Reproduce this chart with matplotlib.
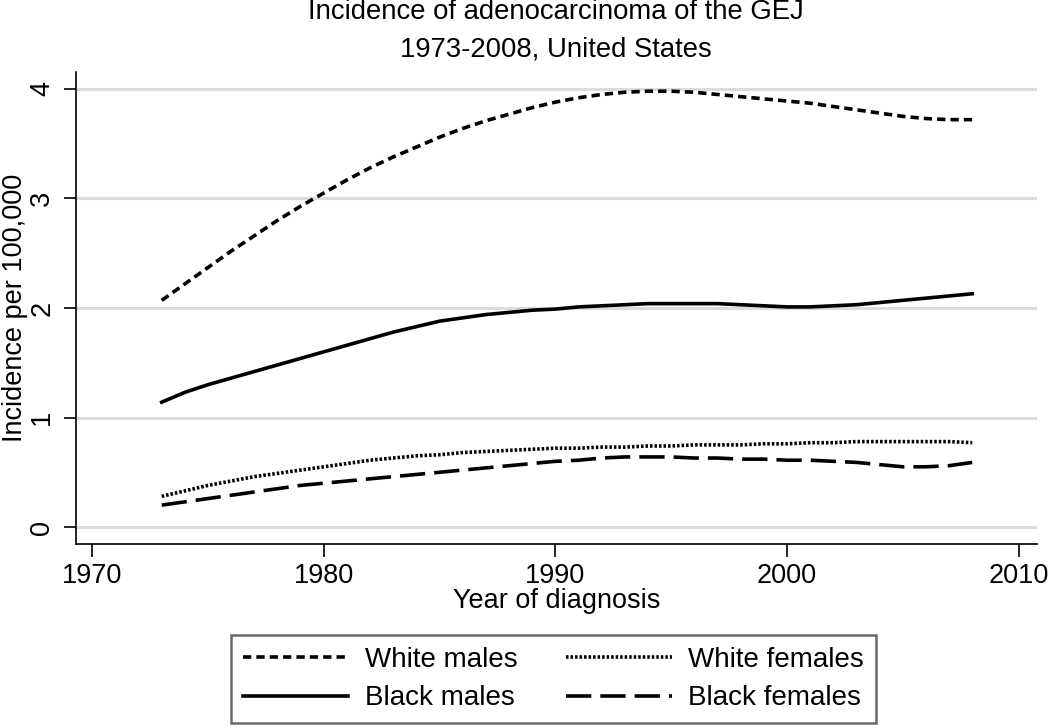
import matplotlib.pyplot as plt
from matplotlib.lines import Line2D

plt.rcParams['font.family'] = ['Liberation Sans', 'DejaVu Sans']

years = list(range(1973, 2009))

# incidence per 100,000
white_males = [2.07, 2.22, 2.37, 2.52, 2.66, 2.80, 2.93, 3.05, 3.17, 3.28,
               3.38, 3.47, 3.56, 3.64, 3.71, 3.77, 3.83, 3.88, 3.92, 3.95,
               3.97, 3.98, 3.98, 3.97, 3.95, 3.93, 3.91, 3.89, 3.87, 3.84,
               3.81, 3.78, 3.75, 3.73, 3.72, 3.72]
black_males = [1.14, 1.23, 1.30, 1.36, 1.42, 1.48, 1.54, 1.60, 1.66, 1.72,
               1.78, 1.83, 1.88, 1.91, 1.94, 1.96, 1.98, 1.99, 2.01, 2.02,
               2.03, 2.04, 2.04, 2.04, 2.04, 2.03, 2.02, 2.01, 2.01, 2.02,
               2.03, 2.05, 2.07, 2.09, 2.11, 2.13]
white_females = [0.28, 0.33, 0.38, 0.42, 0.46, 0.49, 0.52, 0.55, 0.58, 0.61,
                 0.63, 0.65, 0.66, 0.68, 0.69, 0.70, 0.71, 0.72, 0.72, 0.73,
                 0.73, 0.74, 0.74, 0.75, 0.75, 0.75, 0.76, 0.76, 0.77, 0.77,
                 0.78, 0.78, 0.78, 0.78, 0.78, 0.77]
black_females = [0.20, 0.23, 0.26, 0.29, 0.32, 0.35, 0.38, 0.40, 0.42, 0.44,
                 0.46, 0.48, 0.50, 0.52, 0.54, 0.56, 0.58, 0.60, 0.61, 0.63,
                 0.64, 0.64, 0.64, 0.63, 0.63, 0.62, 0.62, 0.61, 0.61, 0.60,
                 0.59, 0.57, 0.55, 0.55, 0.56, 0.59]

xticks = [1970, 1980, 1990, 2000, 2010]
yticks = [0, 1, 2, 3, 4]

fig = plt.figure(figsize=(10.5, 7.26), dpi=100)
ax = fig.add_axes([0.0724, 0.2507, 0.9153, 0.6501])

lw = 2.6
wm_dash = (2.3, 1.4)
wf_dash = (0.7, 0.55)
bf_dash = (7, 2.5)
ax.plot(years, white_males, color='black', lw=lw, dashes=wm_dash)
ax.plot(years, white_females, color='black', lw=lw, dashes=wf_dash)
ax.plot(years, black_males, color='black', lw=lw)
ax.plot(years, black_females, color='black', lw=lw, dashes=bf_dash)

for y in yticks:
    ax.axhline(y, color='#dcdcdc', lw=2.2, zorder=0)

ax.set_xlim(1969.3, 2010.8)
ax.set_ylim(-0.155, 4.155)
ax.set_xticks(xticks)
ax.set_yticks(yticks)
ax.tick_params(axis='both', direction='out', length=9, width=1.2, labelsize=19.5, pad=5)
ax.tick_params(axis='y', pad=6)
for lab in ax.get_yticklabels():
    lab.set_rotation(90)
    lab.set_va('center')
for s in ['top', 'right']:
    ax.spines[s].set_visible(False)
ax.spines['left'].set_linewidth(1.2)
ax.spines['bottom'].set_linewidth(1.2)

ax.set_xlabel('Year of diagnosis', fontsize=19.5, labelpad=-1)
ax.set_ylabel('Incidence per 100,000', fontsize=19.5, labelpad=1)

fig.text(0.5295, 0.9738, 'Incidence of adenocarcinoma of the GEJ', ha='center', va='baseline', fontsize=19.8)
fig.text(0.5295, 0.9215, '1973-2008, United States', ha='center', va='baseline', fontsize=19.8)

handles = [Line2D([], [], color='black', lw=lw, dashes=wm_dash),
           Line2D([], [], color='black', lw=lw),
           Line2D([], [], color='black', lw=lw, dashes=wf_dash),
           Line2D([], [], color='black', lw=lw, dashes=bf_dash)]
labels = ['White males', 'Black males', 'White females', 'Black females']
leg = fig.legend(handles, labels, ncol=2, loc='center', bbox_to_anchor=(0.527, 0.0647),
                 fontsize=20, frameon=True, fancybox=False, handlelength=3.8,
                 handletextpad=0.6, columnspacing=1.75, labelspacing=0.45,
                 borderpad=0.42, borderaxespad=0)
leg.get_frame().set_edgecolor('#444444')
leg.get_frame().set_linewidth(1.8)

fig.savefig('out.png', dpi=100)
